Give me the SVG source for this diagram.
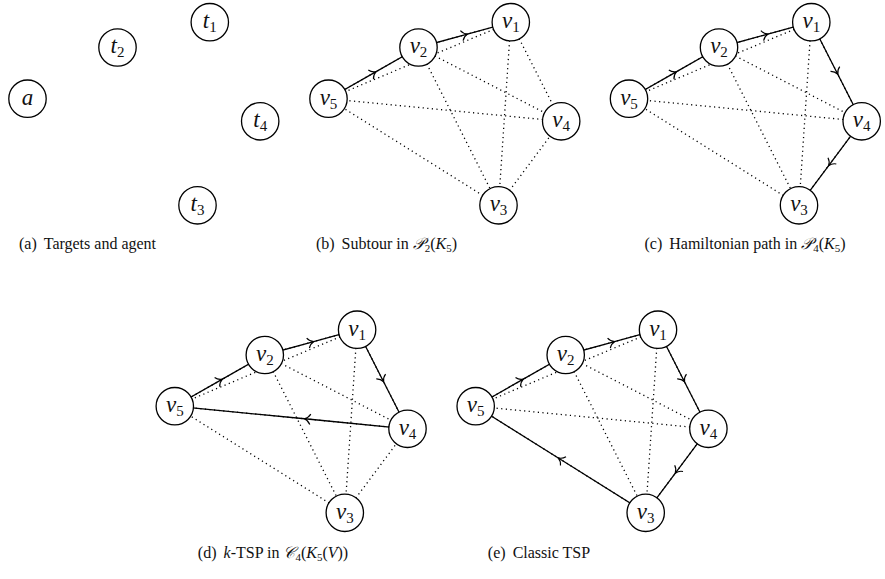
<svg xmlns="http://www.w3.org/2000/svg" width="885" height="579" viewBox="0 0 885 579">
<style>
.n circle{fill:#fff;stroke:#000;stroke-width:1.3}
.lab{font-family:"Liberation Serif",serif;font-style:italic;font-size:23px;text-anchor:middle;fill:#111}
.sub{font-style:normal;font-size:15px}
.dot{stroke:#000;stroke-width:1.3;stroke-dasharray:1.2 3.4;fill:none}
.sol{stroke:#000;stroke-width:1.3;fill:none}
.cap{font-family:"Liberation Serif",serif;font-size:16px;text-anchor:middle;fill:#111}
.m{font-style:italic}
.s{font-size:11px}
</style>
<defs>
<marker id="arr" markerUnits="userSpaceOnUse" markerWidth="16" markerHeight="16" viewBox="-8 -8 16 16" refX="-3" refY="0" orient="auto" overflow="visible">
<path d="M-6,-5.2 C-4.6,-2.2 -1.8,-0.6 0,0 C-1.8,0.6 -4.6,2.2 -6,5.2" fill="none" stroke="#000" stroke-width="1.15"/>
</marker>
</defs>

<!-- Panel (a) -->
<g id="panel-a">
<g id="a-t1" class="n"><circle cx="209.8" cy="22.2" r="18.7"/><text class="lab" x="209.8" y="28">t<tspan class="sub" dy="4">1</tspan></text></g>
<g id="a-t2" class="n"><circle cx="117.5" cy="47.5" r="18.7"/><text class="lab" x="117.5" y="53.3">t<tspan class="sub" dy="4">2</tspan></text></g>
<g id="a-a" class="n"><circle cx="27.5" cy="98.7" r="18.7"/><text class="lab" x="27.5" y="104.5">a</text></g>
<g id="a-t4" class="n"><circle cx="260.2" cy="121.3" r="18.7"/><text class="lab" x="260.2" y="127.1">t<tspan class="sub" dy="4">4</tspan></text></g>
<g id="a-t3" class="n"><circle cx="197.5" cy="205.3" r="18.7"/><text class="lab" x="197.5" y="211.1">t<tspan class="sub" dy="4">3</tspan></text></g>
</g>

<!-- Panel (b) -->
<g id="panel-b" transform="translate(301,0)">
<g id="b-connectors">
<line class="dot" x1="209.8" y1="22.2" x2="117.5" y2="47.5"/>
<line class="dot" x1="209.8" y1="22.2" x2="197.5" y2="205.3"/>
<line class="dot" x1="209.8" y1="22.2" x2="260.2" y2="121.3"/>
<line class="dot" x1="209.8" y1="22.2" x2="27.5" y2="98.7"/>
<line class="dot" x1="117.5" y1="47.5" x2="197.5" y2="205.3"/>
<line class="dot" x1="117.5" y1="47.5" x2="260.2" y2="121.3"/>
<line class="dot" x1="117.5" y1="47.5" x2="27.5" y2="98.7"/>
<line class="dot" x1="197.5" y1="205.3" x2="260.2" y2="121.3"/>
<line class="dot" x1="197.5" y1="205.3" x2="27.5" y2="98.7"/>
<line class="dot" x1="260.2" y1="121.3" x2="27.5" y2="98.7"/>
<path class="sol" marker-mid="url(#arr)" d="M27.5,98.7 L72.5,73.1 L117.5,47.5"/>
<path class="sol" marker-mid="url(#arr)" d="M117.5,47.5 L163.65,34.85 L209.8,22.2"/>
</g>
<g id="b-v1" class="n"><circle cx="209.8" cy="22.2" r="18.7"/><text class="lab" x="209.8" y="28">v<tspan class="sub" dy="4">1</tspan></text></g>
<g id="b-v2" class="n"><circle cx="117.5" cy="47.5" r="18.7"/><text class="lab" x="117.5" y="53.3">v<tspan class="sub" dy="4">2</tspan></text></g>
<g id="b-v5" class="n"><circle cx="27.5" cy="98.7" r="18.7"/><text class="lab" x="27.5" y="104.5">v<tspan class="sub" dy="4">5</tspan></text></g>
<g id="b-v4" class="n"><circle cx="260.2" cy="121.3" r="18.7"/><text class="lab" x="260.2" y="127.1">v<tspan class="sub" dy="4">4</tspan></text></g>
<g id="b-v3" class="n"><circle cx="197.5" cy="205.3" r="18.7"/><text class="lab" x="197.5" y="211.1">v<tspan class="sub" dy="4">3</tspan></text></g>
</g>

<!-- Panel (c) -->
<g id="panel-c" transform="translate(601.5,0)">
<g id="c-connectors">
<line class="dot" x1="209.8" y1="22.2" x2="117.5" y2="47.5"/>
<line class="dot" x1="209.8" y1="22.2" x2="197.5" y2="205.3"/>
<line class="dot" x1="209.8" y1="22.2" x2="260.2" y2="121.3"/>
<line class="dot" x1="209.8" y1="22.2" x2="27.5" y2="98.7"/>
<line class="dot" x1="117.5" y1="47.5" x2="197.5" y2="205.3"/>
<line class="dot" x1="117.5" y1="47.5" x2="260.2" y2="121.3"/>
<line class="dot" x1="117.5" y1="47.5" x2="27.5" y2="98.7"/>
<line class="dot" x1="197.5" y1="205.3" x2="260.2" y2="121.3"/>
<line class="dot" x1="197.5" y1="205.3" x2="27.5" y2="98.7"/>
<line class="dot" x1="260.2" y1="121.3" x2="27.5" y2="98.7"/>
<path class="sol" marker-mid="url(#arr)" d="M27.5,98.7 L72.5,73.1 L117.5,47.5"/>
<path class="sol" marker-mid="url(#arr)" d="M117.5,47.5 L163.65,34.85 L209.8,22.2"/>
<path class="sol" marker-mid="url(#arr)" d="M209.8,22.2 L235,71.75 L260.2,121.3"/>
<path class="sol" marker-mid="url(#arr)" d="M260.2,121.3 L228.85,163.3 L197.5,205.3"/>
</g>
<g id="c-v1" class="n"><circle cx="209.8" cy="22.2" r="18.7"/><text class="lab" x="209.8" y="28">v<tspan class="sub" dy="4">1</tspan></text></g>
<g id="c-v2" class="n"><circle cx="117.5" cy="47.5" r="18.7"/><text class="lab" x="117.5" y="53.3">v<tspan class="sub" dy="4">2</tspan></text></g>
<g id="c-v5" class="n"><circle cx="27.5" cy="98.7" r="18.7"/><text class="lab" x="27.5" y="104.5">v<tspan class="sub" dy="4">5</tspan></text></g>
<g id="c-v4" class="n"><circle cx="260.2" cy="121.3" r="18.7"/><text class="lab" x="260.2" y="127.1">v<tspan class="sub" dy="4">4</tspan></text></g>
<g id="c-v3" class="n"><circle cx="197.5" cy="205.3" r="18.7"/><text class="lab" x="197.5" y="211.1">v<tspan class="sub" dy="4">3</tspan></text></g>
</g>

<!-- Panel (d) -->
<g id="panel-d" transform="translate(147.3,307.5)">
<g id="d-connectors">
<line class="dot" x1="209.8" y1="22.2" x2="117.5" y2="47.5"/>
<line class="dot" x1="209.8" y1="22.2" x2="197.5" y2="205.3"/>
<line class="dot" x1="209.8" y1="22.2" x2="260.2" y2="121.3"/>
<line class="dot" x1="209.8" y1="22.2" x2="27.5" y2="98.7"/>
<line class="dot" x1="117.5" y1="47.5" x2="197.5" y2="205.3"/>
<line class="dot" x1="117.5" y1="47.5" x2="260.2" y2="121.3"/>
<line class="dot" x1="117.5" y1="47.5" x2="27.5" y2="98.7"/>
<line class="dot" x1="197.5" y1="205.3" x2="260.2" y2="121.3"/>
<line class="dot" x1="197.5" y1="205.3" x2="27.5" y2="98.7"/>
<line class="dot" x1="260.2" y1="121.3" x2="27.5" y2="98.7"/>
<path class="sol" marker-mid="url(#arr)" d="M27.5,98.7 L72.5,73.1 L117.5,47.5"/>
<path class="sol" marker-mid="url(#arr)" d="M117.5,47.5 L163.65,34.85 L209.8,22.2"/>
<path class="sol" marker-mid="url(#arr)" d="M209.8,22.2 L235,71.75 L260.2,121.3"/>
<path class="sol" marker-mid="url(#arr)" d="M260.2,121.3 L160,111.5 L27.5,98.7"/>
</g>
<g id="d-v1" class="n"><circle cx="209.8" cy="22.2" r="18.7"/><text class="lab" x="209.8" y="28">v<tspan class="sub" dy="4">1</tspan></text></g>
<g id="d-v2" class="n"><circle cx="117.5" cy="47.5" r="18.7"/><text class="lab" x="117.5" y="53.3">v<tspan class="sub" dy="4">2</tspan></text></g>
<g id="d-v5" class="n"><circle cx="27.5" cy="98.7" r="18.7"/><text class="lab" x="27.5" y="104.5">v<tspan class="sub" dy="4">5</tspan></text></g>
<g id="d-v4" class="n"><circle cx="260.2" cy="121.3" r="18.7"/><text class="lab" x="260.2" y="127.1">v<tspan class="sub" dy="4">4</tspan></text></g>
<g id="d-v3" class="n"><circle cx="197.5" cy="205.3" r="18.7"/><text class="lab" x="197.5" y="211.1">v<tspan class="sub" dy="4">3</tspan></text></g>
</g>

<!-- Panel (e) -->
<g id="panel-e" transform="translate(448.2,307.5)">
<g id="e-connectors">
<line class="dot" x1="209.8" y1="22.2" x2="117.5" y2="47.5"/>
<line class="dot" x1="209.8" y1="22.2" x2="197.5" y2="205.3"/>
<line class="dot" x1="209.8" y1="22.2" x2="260.2" y2="121.3"/>
<line class="dot" x1="209.8" y1="22.2" x2="27.5" y2="98.7"/>
<line class="dot" x1="117.5" y1="47.5" x2="197.5" y2="205.3"/>
<line class="dot" x1="117.5" y1="47.5" x2="260.2" y2="121.3"/>
<line class="dot" x1="117.5" y1="47.5" x2="27.5" y2="98.7"/>
<line class="dot" x1="197.5" y1="205.3" x2="260.2" y2="121.3"/>
<line class="dot" x1="197.5" y1="205.3" x2="27.5" y2="98.7"/>
<line class="dot" x1="260.2" y1="121.3" x2="27.5" y2="98.7"/>
<path class="sol" marker-mid="url(#arr)" d="M27.5,98.7 L72.5,73.1 L117.5,47.5"/>
<path class="sol" marker-mid="url(#arr)" d="M117.5,47.5 L163.65,34.85 L209.8,22.2"/>
<path class="sol" marker-mid="url(#arr)" d="M209.8,22.2 L235,71.75 L260.2,121.3"/>
<path class="sol" marker-mid="url(#arr)" d="M260.2,121.3 L228.85,163.3 L197.5,205.3"/>
<path class="sol" marker-mid="url(#arr)" d="M197.5,205.3 L112.5,152 L27.5,98.7"/>
</g>
<g id="e-v1" class="n"><circle cx="209.8" cy="22.2" r="18.7"/><text class="lab" x="209.8" y="28">v<tspan class="sub" dy="4">1</tspan></text></g>
<g id="e-v2" class="n"><circle cx="117.5" cy="47.5" r="18.7"/><text class="lab" x="117.5" y="53.3">v<tspan class="sub" dy="4">2</tspan></text></g>
<g id="e-v5" class="n"><circle cx="27.5" cy="98.7" r="18.7"/><text class="lab" x="27.5" y="104.5">v<tspan class="sub" dy="4">5</tspan></text></g>
<g id="e-v4" class="n"><circle cx="260.2" cy="121.3" r="18.7"/><text class="lab" x="260.2" y="127.1">v<tspan class="sub" dy="4">4</tspan></text></g>
<g id="e-v3" class="n"><circle cx="197.5" cy="205.3" r="18.7"/><text class="lab" x="197.5" y="211.1">v<tspan class="sub" dy="4">3</tspan></text></g>
</g>

<!-- Captions -->
<g id="captions">
<text class="cap" x="87.5" y="249">(a)<tspan dx="7">Targets and agent</tspan></text>
<text class="cap" x="386.5" y="249">(b)<tspan dx="7">Subtour in </tspan><tspan class="m">𝒫</tspan><tspan class="s" dy="3">2</tspan><tspan dy="-3">(</tspan><tspan class="m">K</tspan><tspan class="s" dy="3">5</tspan><tspan dy="-3">)</tspan></text>
<text class="cap" x="745" y="249">(c)<tspan dx="7">Hamiltonian path in </tspan><tspan class="m">𝒫</tspan><tspan class="s" dy="3">4</tspan><tspan dy="-3">(</tspan><tspan class="m">K</tspan><tspan class="s" dy="3">5</tspan><tspan dy="-3">)</tspan></text>
<text class="cap" x="273" y="558">(d)<tspan dx="7" class="m">k</tspan><tspan>-TSP in </tspan><tspan class="m">𝒞</tspan><tspan class="s" dy="3">4</tspan><tspan dy="-3">(</tspan><tspan class="m">K</tspan><tspan class="s" dy="3">5</tspan><tspan dy="-3">(</tspan><tspan class="m">V</tspan><tspan>))</tspan></text>
<text class="cap" x="539" y="558">(e)<tspan dx="7">Classic TSP</tspan></text>
</g>
</svg>
